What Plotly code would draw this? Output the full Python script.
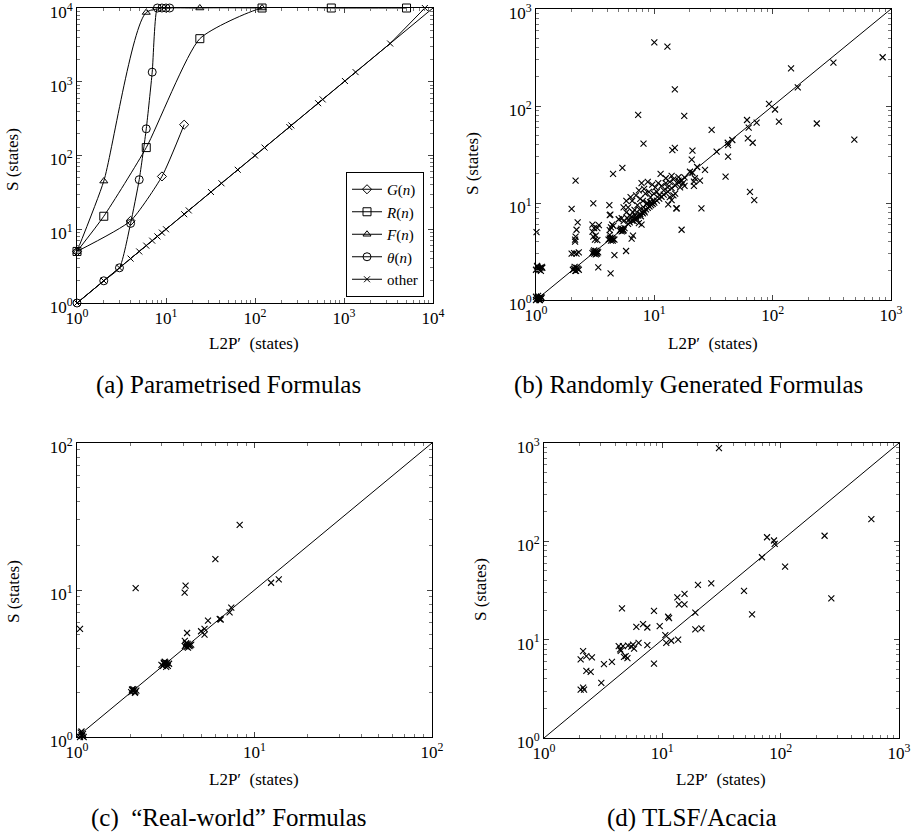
import plotly.graph_objects as go

FONT = "Liberation Serif"

# ---------------- Panel (a): Parametrised formulas ----------------
g_x = [1, 4, 9, 16]
g_y = [5, 13, 52, 262]
r_x = [1, 2, 6, 24, 120, 720, 5040]
r_y = [5, 15, 128, 3840, 10000, 10000, 10000]
f_x = [1, 2, 6, 24, 120]
f_y = [5, 45, 8700, 10000, 10000]
t_x = [1, 2, 3, 4, 5, 6, 7, 8, 9, 10, 11]
t_y = [1, 2, 3, 12, 47, 230, 1350, 10000, 10000, 10000, 10000]
o_x = [1, 2, 3, 4, 5, 6, 7, 8, 9, 10, 16, 18, 32, 42, 64, 100, 128, 243, 256,
       512, 576, 1024, 1350, 3300, 8100]
o_y = [1, 2, 3, 4, 5, 6, 7, 8, 9, 10, 16, 18, 32, 42, 64, 100, 128, 243, 256,
       512, 576, 1024, 1350, 3300, 10000]

# ---------------- Panel (b): Randomly generated formulas ----------------
b_x = [1.0, 1.03, 1.05, 1.08, 1.1, 1.12, 1.0, 1.04, 1.07, 1.1, 1.02, 1.06,
       1.0, 1.03, 1.06, 1.1, 1.13, 1.02, 1.07, 1.12, 1.04, 1.09,
       1.01,
       2.05, 2.1, 2.15, 2.2, 2.25, 2.3, 2.12, 2.18,
       2.0, 2.1, 2.2, 2.3, 2.14, 2.14, 2.25, 2.2, 2.0, 2.16,
       3.0, 3.05, 3.1, 3.15, 3.2, 3.25, 3.3, 3.35, 3.1, 3.2, 3.28,
       3.05, 3.05, 3.1, 3.3, 3.0, 3.2, 3.15, 3.3, 3.36, 3.4, 3.0,
       4.1, 4.2, 4.3, 4.4, 4.5, 4.6, 4.25, 4.45, 4.35,
       4.17, 4.2, 4.25, 4.3, 4.2, 4.2, 4.27, 4.6, 4.48, 4.4, 4.5,
       5.1, 5.2, 5.3, 5.4, 5.5, 5.6, 5.25, 5.45,
       5.37, 5.3, 5.5, 5.0, 5.77, 6.43,
       6.0, 6.2, 6.5, 6.8, 7.0, 7.3, 7.6, 7.9, 8.2, 8.5, 8.8, 9.1, 9.4, 9.7,
       10.0, 10.5, 11.0, 11.5, 12.0, 13.0, 14.0, 15.0, 16.0, 17.0, 18.0,
       5.8, 6.0, 6.2, 6.5, 6.8, 7.0, 7.2, 7.4, 7.6, 7.8, 8.0, 8.2, 8.4, 8.6,
       8.8, 9.0, 9.3, 9.6, 9.9, 10.2, 10.5, 10.8, 11.0, 11.5, 12.0, 12.5,
       13.0, 13.5, 14.0, 14.5, 15.0, 16.0, 5.5, 5.8, 6.3, 6.6, 6.9, 7.5, 8.1,
       8.7, 9.2, 9.5, 9.8, 5.9, 6.1, 6.4, 6.7, 7.1, 7.4, 7.7, 8.0, 8.3, 6.6,
       7.8,
       13.1, 15.3, 14.0, 14.5, 15.5, 17.0, 25.0, 11.3, 12.5, 13.5, 16.0,
       17.5, 18.0, 16.5, 20.0, 22.0, 23.0,
       21.0, 20.7, 21.0, 21.6, 21.6, 24.3, 26.8, 30.5, 33.6, 40.0, 41.7,
       42.0, 42.0, 45.6, 60.7, 62.7, 61.7, 67.8, 64.3, 69.9, 73.2, 93.1,
       104.7, 113.0, 143.0, 163.0, 236.0, 326.0, 490.0, 850.0,
       10.0, 12.9, 14.9, 7.3, 17.9, 8.1, 14.2, 14.9, 2.16]
b_y = [1.0, 1.02, 1.05, 1.0, 1.03, 1.06, 1.08, 1.1, 1.0, 1.08, 1.04, 1.02,
       2.05, 2.2, 2.1, 2.0, 2.15, 2.25, 2.05, 2.2, 2.1, 2.15,
       5.0,
       2.05, 2.1, 2.0, 2.15, 2.1, 2.05, 2.2, 2.0,
       3.0, 3.05, 3.0, 3.1, 4.2, 4.0, 6.3, 5.3, 8.7, 4.5,
       3.05, 3.15, 3.0, 3.1, 3.2, 3.05, 3.15, 3.1, 3.25, 2.95, 3.0,
       9.9, 4.5, 5.5, 5.5, 5.06, 4.6, 4.2, 4.15, 2.17, 5.9, 6.0,
       4.2, 4.3, 4.1, 4.35, 4.25, 4.2, 4.4, 4.1, 4.3,
       9.5, 7.5, 7.6, 5.6, 5.25, 4.7, 1.88, 2.9, 20.0, 6.0, 5.8,
       5.2, 5.3, 5.1, 5.4, 5.25, 5.5, 5.45, 5.15,
       23.0, 7.0, 6.5, 6.8, 3.2, 4.3,
       6.1, 6.3, 6.6, 6.9, 7.1, 7.4, 7.7, 8.0, 8.3, 8.6, 8.9, 9.2, 9.5, 9.8,
       10.1, 10.6, 11.1, 11.6, 12.2, 13.1, 14.2, 15.2, 16.3, 17.2, 18.4,
       8.0, 9.0, 7.5, 10.5, 8.5, 12.0, 9.5, 13.5, 11.0, 16.0, 10.5, 14.0, 12.5,
       9.8, 16.5, 13.0, 11.5, 15.5, 12.5, 14.5, 13.0, 16.0, 12.0, 15.0, 13.5,
       16.0, 14.5, 11.5, 19.0, 17.5, 12.5, 18.5, 9.0, 10.5, 11.5, 8.0, 7.5,
       8.6, 9.0, 10.0, 10.2, 10.0, 10.5, 7.0, 6.7, 7.2, 6.5, 6.8, 6.2, 7.3,
       7.8, 8.0, 4.6, 6.0,
       9.7, 8.8, 10.7, 12.0, 8.8, 5.3, 8.8, 20.0, 18.0, 16.5, 17.0,
       16.0, 15.0, 14.5, 21.0, 18.0, 23.5,
       34.6, 28.0, 20.5, 16.6, 15.0, 17.0, 22.0, 56.6, 33.8, 18.7, 41.8,
       39.5, 30.0, 44.6, 71.7, 60.0, 46.4, 41.8, 13.0, 10.7, 67.3, 105.0,
       92.0, 69.0, 244.0, 156.0, 66.0, 280.0, 45.0, 318.0,
       453.0, 409.0, 148.0, 81.0, 79.0, 41.0, 35.0, 37.0, 17.0]

# ---------------- Panel (c): "Real-world" formulas ----------------
c_x = [1.04, 1.06, 1.08, 1.05, 1.07, 1.09, 1.06,
       1.04,
       2.02, 2.05, 2.08, 2.1, 2.13, 2.16, 2.06, 2.12, 2.04,
       2.14,
       2.99, 3.05, 3.1, 3.15, 3.2, 3.25, 3.3, 3.08, 3.18, 3.12, 3.22,
       4.05, 4.1, 4.15, 4.2, 4.25, 4.3, 4.4, 4.12, 4.22, 4.35,
       4.04, 4.09, 6.02, 8.25, 12.4, 13.7, 7.4, 7.24, 6.37, 6.45, 5.47,
       5.0, 5.23, 5.23, 4.17, 4.05]
c_y = [1.0, 1.03, 1.05, 1.07, 1.02, 1.0, 1.09,
       5.43,
       2.02, 2.08, 2.05, 2.1, 2.03, 2.07, 2.12, 2.0, 2.1,
       10.3,
       3.1, 3.05, 3.15, 3.2, 3.1, 3.05, 3.15, 3.2, 3.0, 3.25, 3.18,
       4.15, 4.25, 4.1, 4.3, 4.2, 4.15, 4.25, 4.35, 4.05, 4.2,
       9.6, 10.7, 16.2, 27.7, 11.2, 11.8, 7.6, 7.05, 6.35, 6.3, 6.2,
       5.24, 5.43, 4.97, 5.1, 4.5]

# ---------------- Panel (d): TLSF/Acacia ----------------
d_x = [30.1, 584, 235, 268, 76.7, 87.8, 89, 69.5, 109, 49, 57.3, 25.9, 20,
       15.4, 13.4, 13.8, 15.4, 19, 19, 21.4, 11.2, 11.4, 8.5, 9.5, 6.03,
       6.87, 7.47, 10.6, 10.8, 11.9, 13.6, 8.5, 7.47, 6.3, 5.65, 5.77, 5.47,
       4.74, 5.07, 4.9, 4.28, 4.4, 4.65, 5.13, 4.45, 4.56, 3.75, 3.21, 3.05,
       2.54, 2.28, 2.14, 2.04, 2.28, 2.48, 2.04, 2.14, 2.18]
d_y = [889, 168, 114, 26.3, 110, 102, 94, 68.9, 55.4, 31.3, 18.1, 37.4, 36,
       29.2, 26.9, 22.9, 22.9, 18.8, 12.7, 13, 17.1, 16.6, 19.6, 13.7, 13.5,
       14.4, 13.3, 11.1, 9.3, 9.75, 10, 5.7, 8.8, 9.3, 8.9, 8.1, 8.5,
       6.7, 6.5, 6.8, 8.6, 7.95, 8.6, 8.7, 7.7, 20.8, 5.95, 5.64, 3.64,
       6.6, 6.8, 7.65, 6.3, 4.82, 4.7, 3.1, 3.26, 3.1]

# axis ranges (decades)
RANGES = {"a": (0, 4), "b": (0, 3), "c": (0, 2), "d": (0, 3)}

W, H = 915, 838


def px2x(p):
    return p / W


def px2y(p):
    return 1 - p / H


DOM = {
    "a": ([77, 433], [8, 303]),
    "b": ([536, 891], [9, 300]),
    "c": ([77, 432], [443, 737]),
    "d": ([544, 899], [443, 738]),
}
AX = {"a": ("x", "y"), "b": ("x2", "y2"), "c": ("x3", "y3"), "d": ("x4", "y4")}

fig = go.Figure()

line_k = dict(color="black", width=1)


def add_diag(panel):
    lo, hi = RANGES[panel]
    xa, ya = AX[panel]
    fig.add_trace(go.Scatter(x=[10 ** lo, 10 ** hi], y=[10 ** lo, 10 ** hi],
                             mode="lines", line=line_k, showlegend=False,
                             hoverinfo="skip", xaxis=xa, yaxis=ya))


def add_scatter(panel, xs, ys):
    xa, ya = AX[panel]
    fig.add_trace(go.Scatter(x=xs, y=ys, mode="markers",
                             marker=dict(symbol="x-thin", size=6, color="black",
                                         line=dict(width=1.1, color="black")),
                             showlegend=False, xaxis=xa, yaxis=ya, cliponaxis=False))


# panel (a)
add_diag("a")
series_a = [
    ("<i>G</i>(<i>n</i>)", g_x, g_y, "diamond-open", 7, "spline"),
    ("<i>R</i>(<i>n</i>)", r_x, r_y, "square-open", 8, "spline"),
    ("<i>F</i>(<i>n</i>)", f_x, f_y, "triangle-up-open", 7, "spline"),
    ("<i>θ</i>(<i>n</i>)", t_x, t_y, "circle-open", 8, "spline"),
    ("other", o_x, o_y, "x-thin", 6, "linear"),
]
for name, xs, ys, sym, sz, shape in series_a:
    fig.add_trace(go.Scatter(x=xs, y=ys, name=name, mode="lines+markers",
                             line=dict(color="black", width=1, shape=shape, smoothing=0.55),
                             marker=dict(symbol=sym, size=sz, color="black",
                                         line=dict(width=1, color="black")),
                             xaxis="x", yaxis="y", cliponaxis=False))

add_diag("b")
add_scatter("b", b_x, b_y)
add_diag("c")
add_scatter("c", c_x, c_y)
add_diag("d")
add_scatter("d", d_x, d_y)

layout = dict(
    template="none",
    width=W, height=H, margin=dict(l=0, r=0, t=0, b=0, pad=0, autoexpand=False),
    paper_bgcolor="white", plot_bgcolor="white",
    font=dict(family=FONT, color="black", size=15),
    showlegend=True, hovermode=False,
    legend=dict(x=px2x(424), y=px2y(297), xanchor="right", yanchor="bottom",
                bordercolor="black", borderwidth=1, bgcolor="white",
                font=dict(family=FONT, size=15), tracegroupgap=0,
                itemwidth=30),
)

minor_vals = []
for k in range(0, 4):
    for m in range(2, 10):
        minor_vals.append(m * 10 ** k)

for i, panel in enumerate(["a", "b", "c", "d"]):
    lo, hi = RANGES[panel]
    xd, yd = DOM[panel]
    major = [10 ** k for k in range(lo, hi + 1)]
    labels = [f"10<sup>{k}</sup>" for k in range(lo, hi + 1)]
    common = dict(type="log", range=[lo, hi], showgrid=False, zeroline=False,
                  automargin=False, ticklabeloverflow="allow",
                  showline=True, linecolor="black", linewidth=1, mirror="allticks",
                  ticks="inside", ticklen=5, tickcolor="#444", tickwidth=1,
                  tickvals=major, ticktext=labels,
                  tickfont=dict(family=FONT, size=17, color="black"),
                  minor=dict(ticks="inside", ticklen=3, tickcolor="#777",
                             tickvals=[v for v in minor_vals if v < 10 ** hi]))
    suffix = "" if i == 0 else str(i + 1)
    layout["xaxis" + suffix] = dict(common, domain=[px2x(xd[0]), px2x(xd[1])],
                                    anchor="y" + suffix)
    layout["yaxis" + suffix] = dict(common, domain=[px2y(yd[1]), px2y(yd[0])],
                                    anchor="x" + suffix, ticklabelshift=4)

fig.update_layout(**layout)

# annotations: axis titles and captions
ann = []
xt = {"a": (254, 343), "b": (713, 343), "c": (254, 779), "d": (721, 779)}
yt = {"a": (13, 160), "b": (472, 163), "c": (13, 592), "d": (480, 590)}
caps = {"a": ("(a) Parametrised Formulas", 229, 385),
        "b": ("(b) Randomly Generated Formulas", 688, 385),
        "c": ("(c)  “Real-world” Formulas", 229, 818),
        "d": ("(d) TLSF/Acacia", 692, 818)}
for p in ["a", "b", "c", "d"]:
    ann.append(dict(text="L2P′  (states)", x=px2x(xt[p][0]), y=px2y(xt[p][1]),
                    xref="paper", yref="paper", showarrow=False,
                    xanchor="center", yanchor="middle",
                    font=dict(family=FONT, size=17)))
    ann.append(dict(text="S (states)", x=px2x(yt[p][0]), y=px2y(yt[p][1]),
                    xref="paper", yref="paper", showarrow=False, textangle=-90,
                    xanchor="center", yanchor="middle",
                    font=dict(family=FONT, size=17)))
    t, cx, cy = caps[p]
    ann.append(dict(text=t, x=px2x(cx), y=px2y(cy), xref="paper", yref="paper",
                    showarrow=False, xanchor="center", yanchor="middle",
                    font=dict(family=FONT, size=25)))
fig.update_layout(annotations=ann)

fig.write_html("out.html",
               config={"displayModeBar": False, "staticPlot": True},
               post_script="document.body.style.margin='0px';"
                           "document.body.style.overflow='hidden';")
